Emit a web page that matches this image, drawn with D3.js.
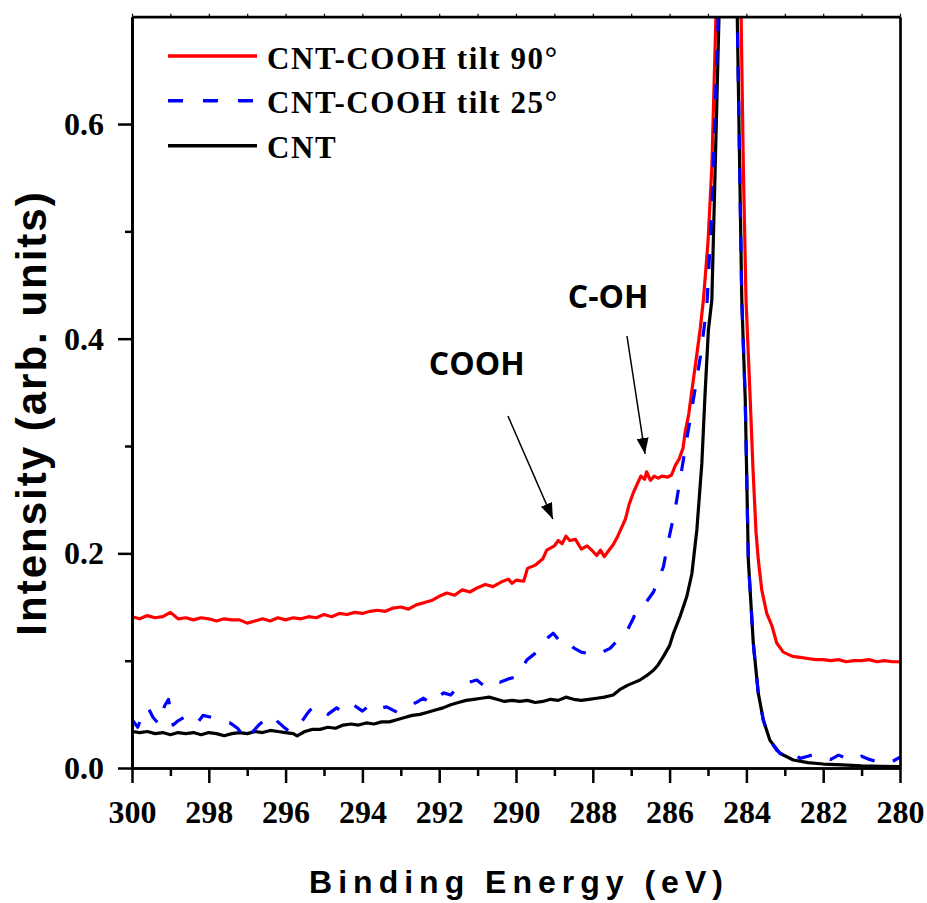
<!DOCTYPE html>
<html>
<head>
<meta charset="utf-8">
<script src="https://cdn.jsdelivr.net/npm/d3@7"></script>
<style>
  body { margin: 0; background: #fff; }
  svg { display: block; }
</style>
</head>
<body>
<svg id="chart" width="927" height="903"></svg>
<script>
// C 1s spectra: binding energy (eV) and normalised intensity for each sample
const energyTilt90 = [300,299.8,299.6,299.4,299.2,299.0,298.8,298.6,298.4,298.2,298.0,297.8,297.6,297.4,297.2,297.0,296.8,296.6,296.4,296.2,296.0,295.8,295.6,295.4,295.2,295.0,294.8,294.6,294.4,294.2,294.0,293.8,293.6,293.4,293.2,293.0,292.8,292.6,292.4,292.2,292.0,291.8,291.6,291.4,291.2,291.0,290.8,290.6,290.4,290.2,290.1,290.0,289.8,289.7,289.5,289.3,289.2,289.0,288.9,288.8,288.7,288.6,288.45,288.3,288.15,288.0,287.9,287.8,287.7,287.6,287.47,287.35,287.25,287.15,287.05,286.95,286.85,286.75,286.65,286.6,286.5,286.4,286.3,286.2,286.05,285.95,285.85,285.75,285.65,285.6,285.5,285.43,285.35,285.3,285.2,285.12,285.0,284.9,284.79,284.47,284.14,284.08,284.01,283.9,283.83,283.75,283.69,283.6,283.47,283.34,283.21,283.04,282.8,282.6,282.4,282.2,282.0,281.8,281.6,281.4,281.2,281.0,280.8,280.6,280.4,280.2,280.0];
const intensityTilt90 = [0.141,0.139,0.142,0.140,0.141,0.145,0.139,0.140,0.138,0.140,0.139,0.137,0.139,0.138,0.138,0.135,0.137,0.139,0.137,0.140,0.138,0.140,0.139,0.141,0.140,0.143,0.141,0.144,0.143,0.145,0.144,0.146,0.147,0.146,0.149,0.150,0.148,0.152,0.154,0.156,0.160,0.163,0.161,0.166,0.164,0.168,0.171,0.169,0.173,0.176,0.172,0.175,0.174,0.186,0.189,0.195,0.203,0.207,0.212,0.209,0.216,0.212,0.213,0.204,0.207,0.202,0.198,0.203,0.197,0.202,0.208,0.216,0.224,0.232,0.246,0.256,0.264,0.272,0.269,0.276,0.268,0.272,0.270,0.272,0.271,0.273,0.282,0.288,0.298,0.312,0.330,0.349,0.370,0.383,0.410,0.436,0.490,0.560,0.705,1.05,0.705,0.560,0.436,0.343,0.280,0.220,0.194,0.166,0.144,0.133,0.1165,0.108,0.104,0.103,0.102,0.101,0.101,0.100,0.101,0.099,0.100,0.100,0.101,0.099,0.100,0.099,0.099];

const energyTilt25 = [300,299.85,299.7,299.58,299.45,299.3,299.15,299.05,298.93,298.8,298.6,298.45,298.3,298.15,297.9,297.7,297.45,297.25,297.1,297.0,296.85,296.7,296.5,296.36,296.2,296.06,295.9,295.75,295.6,295.45,295.36,295.2,295.1,294.9,294.67,294.5,294.24,294.0,293.8,293.6,293.37,293.1,292.85,292.6,292.41,292.2,291.89,291.7,291.55,291.3,291.02,290.85,290.68,290.42,290.2,289.98,289.85,289.72,289.6,289.46,289.3,289.15,289.03,288.9,288.8,288.68,288.5,288.3,288.16,287.9,287.75,287.55,287.35,287.12,286.95,286.86,286.72,286.6,286.42,286.3,286.16,286.03,285.86,285.73,285.6,285.47,285.34,285.2,285.03,284.9,284.73,284.47,284.24,284.12,284.03,283.98,283.95,283.82,283.69,283.56,283.39,283.2,283.05,282.95,282.8,282.6,282.4,282.2,282.0,281.8,281.6,281.4,281.2,281.0,280.8,280.6,280.4,280.2,280.0];
const intensityTilt25 = [0.045,0.038,0.052,0.056,0.047,0.041,0.058,0.064,0.040,0.044,0.048,0.043,0.042,0.049,0.047,0.044,0.042,0.037,0.030,0.026,0.034,0.040,0.046,0.049,0.043,0.0385,0.034,0.040,0.042,0.050,0.054,0.058,0.0556,0.050,0.056,0.052,0.059,0.053,0.059,0.055,0.057,0.052,0.057,0.061,0.065,0.060,0.070,0.068,0.074,0.079,0.082,0.077,0.082,0.080,0.083,0.085,0.092,0.1006,0.104,0.108,0.115,0.122,0.1255,0.120,0.116,0.118,0.112,0.108,0.107,0.105,0.108,0.1115,0.119,0.127,0.139,0.147,0.152,0.155,0.164,0.175,0.1876,0.212,0.240,0.268,0.296,0.324,0.352,0.383,0.430,0.520,0.705,1.05,0.705,0.436,0.343,0.250,0.194,0.116,0.0696,0.0447,0.026,0.016,0.012,0.016,0.014,0.009,0.011,0.013,0.010,0.008,0.012,0.009,0.007,0.011,0.008,0.006,0.004,0.006,0.010];

const energyCNT = [300,299.8,299.6,299.4,299.2,299.0,298.8,298.6,298.4,298.2,298.0,297.8,297.6,297.4,297.2,297.0,296.8,296.6,296.4,296.2,296.0,295.8,295.7,295.5,295.3,295.1,294.9,294.7,294.5,294.3,294.1,293.9,293.7,293.5,293.3,293.1,292.9,292.7,292.5,292.3,292.1,291.9,291.7,291.5,291.3,291.1,290.9,290.7,290.5,290.3,290.1,289.9,289.7,289.5,289.3,289.1,288.9,288.7,288.5,288.3,288.1,287.9,287.7,287.47,287.3,287.1,286.9,286.77,286.6,286.42,286.3,286.16,286.0,285.9,285.73,285.55,285.42,285.29,285.16,285.08,284.99,284.9,284.71,284.47,284.24,284.12,284.03,283.98,283.95,283.82,283.69,283.56,283.39,283.13,282.78,282.4,282.0,281.5,281.0,280.5,280.0];
const intensityCNT = [0.034,0.033,0.034,0.032,0.033,0.031,0.033,0.032,0.033,0.031,0.033,0.032,0.030,0.032,0.033,0.032,0.034,0.033,0.035,0.034,0.033,0.032,0.030,0.034,0.036,0.036,0.038,0.037,0.040,0.041,0.040,0.042,0.041,0.043,0.043,0.045,0.047,0.049,0.050,0.052,0.054,0.056,0.059,0.061,0.063,0.064,0.065,0.066,0.064,0.062,0.063,0.062,0.063,0.061,0.062,0.064,0.063,0.066,0.064,0.063,0.064,0.065,0.066,0.068,0.073,0.077,0.080,0.082,0.086,0.091,0.096,0.104,0.114,0.1255,0.141,0.160,0.181,0.222,0.284,0.346,0.408,0.436,0.705,1.05,0.705,0.436,0.343,0.250,0.194,0.116,0.0696,0.0447,0.026,0.0137,0.0075,0.005,0.0037,0.003,0.002,0.0015,0.0012];

const seriesNames = ["CNT-COOH tilt 90°", "CNT-COOH tilt 25°", "CNT"];
const seriesColors = ["#ff0000", "#0000ff", "#000000"];

const xMajorTicks = [300,298,296,294,292,290,288,286,284,282,280];
const xMinorTicks = [299,297,295,293,291,289,287,285,283,281];
const xTopTicks = d3.range(300, 279, -1);
const yMajorTicks = [0.0,0.2,0.4,0.6];
const yMinorTicks = [0.1,0.3,0.5];

// Peak annotations: label anchor, arrow tail and arrow tip (eV, intensity)
const annotationLabels = ["COOH", "C-OH"];
const annotationLabelPos = [[292.27, 0.366], [288.65, 0.4286]];
const annotationTail = [[290.21, 0.328], [287.11, 0.4025]];
const annotationTip = [[289.04, 0.232], [286.64, 0.2926]];

const svg = d3.select("#chart");
const plotLeft = 132, plotRight = 900, plotTop = 16.7, plotBottom = 768;

const x = d3.scaleLinear().domain([300, 280]).range([plotLeft, plotRight]);
const y = d3.scaleLinear().domain([0, 0.7]).range([plotBottom, plotTop]);

svg.append("rect").attr("width", 927).attr("height", 903).attr("fill", "#fff");

const defs = svg.append("defs");
defs.append("clipPath").attr("id", "plotClip")
  .append("rect").attr("x", plotLeft).attr("y", plotTop)
  .attr("width", plotRight - plotLeft).attr("height", plotBottom - plotTop);

const serif = "'Liberation Serif', 'Times New Roman', serif";
const sans = "'Liberation Sans', Arial, sans-serif";

// Curves
const line = d3.line().x(d => x(d[0])).y(d => y(d[1]));
const series = [
  d3.zip(energyTilt90, intensityTilt90),
  d3.zip(energyTilt25, intensityTilt25),
  d3.zip(energyCNT, intensityCNT)
];
const drawOrder = [2, 0, 1];
const plot = svg.append("g").attr("clip-path", "url(#plotClip)");
drawOrder.forEach(i => {
  plot.append("path")
    .datum(series[i])
    .attr("d", line)
    .attr("fill", "none")
    .attr("stroke", seriesColors[i])
    .attr("stroke-width", 3.2)
    .attr("stroke-linejoin", "round")
    .attr("stroke-dasharray", i === 1 ? "15,19" : null);
});

// Axes
function styleAxis(g) {
  g.select(".domain").attr("stroke", "#000").attr("stroke-width", 2.7);
  g.selectAll(".tick line").attr("stroke", "#000").attr("stroke-width", 2.5);
}

const xAxisMinor = svg.append("g").attr("transform", `translate(0,${plotBottom})`)
  .call(d3.axisBottom(x).tickValues(xMinorTicks).tickSize(8).tickSizeOuter(0).tickFormat(""));
styleAxis(xAxisMinor);
const xAxis = svg.append("g").attr("transform", `translate(0,${plotBottom})`)
  .call(d3.axisBottom(x).tickValues(xMajorTicks).tickSize(15).tickSizeOuter(0).tickFormat(d3.format("d")));
styleAxis(xAxis);
xAxis.selectAll("text")
  .attr("y", 55).attr("dy", 0)
  .attr("font-family", serif).attr("font-weight", "bold").attr("font-size", 32)
  .attr("fill", "#000");

const xTop = svg.append("g").attr("transform", `translate(0,${plotTop})`)
  .call(d3.axisTop(x).tickValues(xTopTicks).tickSize(3).tickSizeOuter(0).tickFormat(""));
styleAxis(xTop);
xTop.selectAll(".tick line").attr("stroke-width", 1.2);

const yAxisMinor = svg.append("g").attr("transform", `translate(${plotLeft},0)`)
  .call(d3.axisLeft(y).tickValues(yMinorTicks).tickSize(7).tickSizeOuter(0).tickFormat(""));
styleAxis(yAxisMinor);
const yAxis = svg.append("g").attr("transform", `translate(${plotLeft},0)`)
  .call(d3.axisLeft(y).tickValues(yMajorTicks).tickSize(14).tickSizeOuter(0).tickPadding(14).tickFormat(d3.format(".1f")));
styleAxis(yAxis);
yAxis.selectAll("text")
  .attr("dy", "0.33em")
  .attr("font-family", serif).attr("font-weight", "bold").attr("font-size", 32)
  .attr("fill", "#000");

const yRight = svg.append("g").attr("transform", `translate(${plotRight},0)`)
  .call(d3.axisRight(y).tickValues([]).tickSizeOuter(0));
styleAxis(yRight);

// Axis titles
svg.append("text")
  .attr("x", (plotLeft + plotRight) / 2 + 3).attr("y", 893)
  .attr("text-anchor", "middle")
  .attr("font-family", sans).attr("font-weight", "bold").attr("font-size", 32)
  .attr("letter-spacing", 6)
  .text("Binding Energy (eV)");

svg.append("text")
  .attr("transform", `translate(46,413) rotate(-90)`)
  .attr("text-anchor", "middle")
  .attr("font-family", sans).attr("font-weight", "bold").attr("font-size", 42)
  .attr("letter-spacing", 2)
  .text("Intensity (arb. units)");

// Legend
const legendRows = [56, 100.7, 145.7];
seriesNames.forEach((name, i) => {
  svg.append("line")
    .attr("x1", 168).attr("x2", 257)
    .attr("y1", legendRows[i]).attr("y2", legendRows[i])
    .attr("stroke", seriesColors[i]).attr("stroke-width", 3.6)
    .attr("stroke-dasharray", i === 1 ? "15,20" : null);
  svg.append("text")
    .attr("x", 267).attr("y", legendRows[i] + 12.6)
    .attr("font-family", serif).attr("font-weight", "bold").attr("font-size", 31)
    .attr("letter-spacing", 1.6)
    .text(name);
});

// Peak annotations with arrows
defs.append("marker")
  .attr("id", "arrowHead")
  .attr("viewBox", "0 0 16 12")
  .attr("refX", 16).attr("refY", 6)
  .attr("markerWidth", 16).attr("markerHeight", 12)
  .attr("markerUnits", "userSpaceOnUse")
  .attr("orient", "auto")
  .append("path").attr("d", "M0,0 L16,6 L0,12 Z").attr("fill", "#000");

annotationLabels.forEach((lab, i) => {
  svg.append("text")
    .attr("x", x(annotationLabelPos[i][0])).attr("y", y(annotationLabelPos[i][1]))
    .attr("font-family", "'Open Sans', 'DejaVu Sans', sans-serif")
    .attr("font-weight", "bold").attr("font-size", 32)
    .text(lab);
  svg.append("line")
    .attr("x1", x(annotationTail[i][0])).attr("y1", y(annotationTail[i][1]))
    .attr("x2", x(annotationTip[i][0])).attr("y2", y(annotationTip[i][1]))
    .attr("stroke", "#000").attr("stroke-width", 1.5)
    .attr("marker-end", "url(#arrowHead)");
});
</script>
</body>
</html>
